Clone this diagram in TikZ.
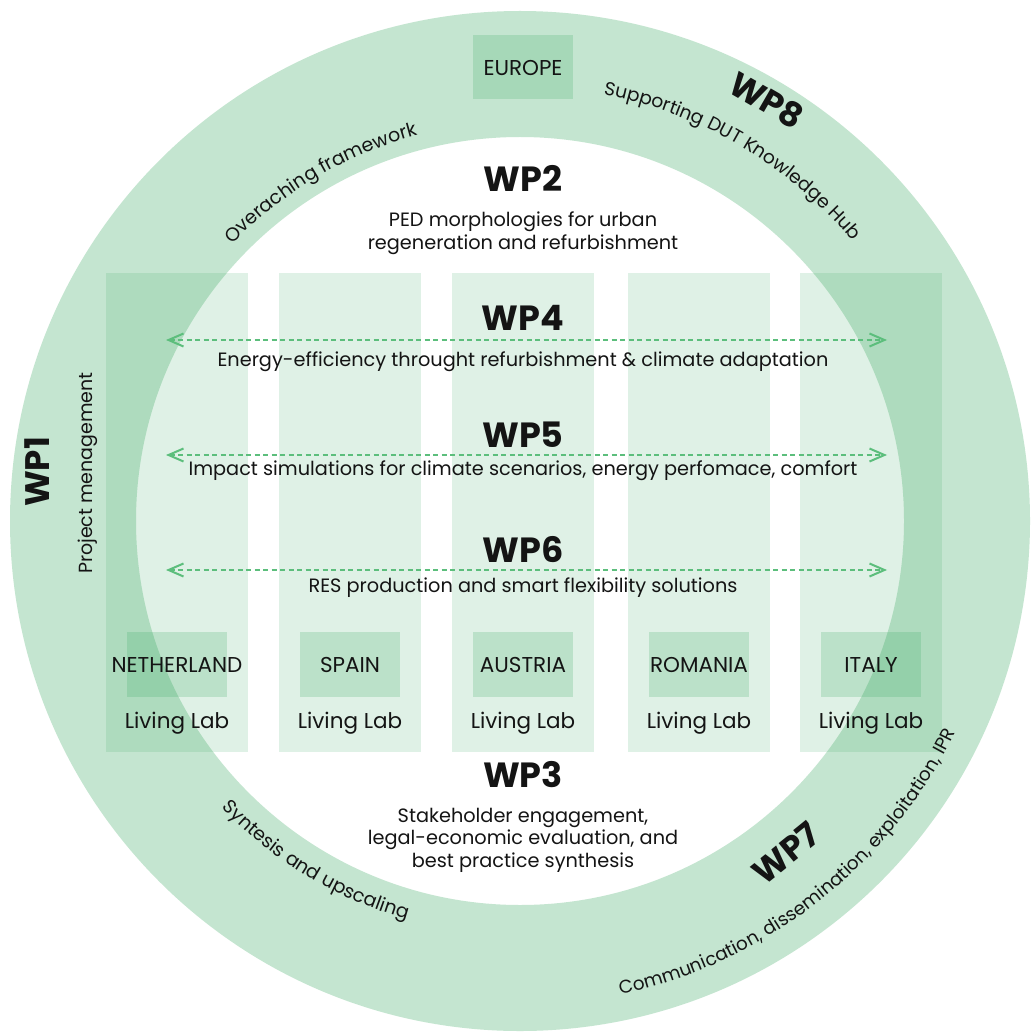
\documentclass[tikz,border=0pt]{standalone}
\usepackage{fontspec}
\setmainfont{Poppins}
\usetikzlibrary{arrows.meta,decorations.text}
\definecolor{wpgreen}{RGB}{60,170,100}
\definecolor{arrowgreen}{RGB}{92,190,124}
\definecolor{inkblack}{RGB}{20,20,20}
\begin{document}
\begin{tikzpicture}
[x=1pt,y=1pt,
  ringDecorate/.style={fill=wpgreen,fill opacity=0.30,even odd rule},
  columnDecorate/.style={fill=wpgreen,fill opacity=0.16,minimum width=142pt,minimum height=479pt,inner sep=0pt},
  boxDecorate/.style={fill=wpgreen,fill opacity=0.22,text opacity=1,minimum width=100pt,minimum height=65pt,inner sep=0pt},
  labelDecorate/.style={font=\fontsize{21.5}{24}\selectfont,text=inkblack,anchor=base,inner sep=0pt},
  titleDecorate/.style={font=\fontsize{35}{40}\selectfont\bfseries,text=inkblack,anchor=base,inner sep=0pt},
  bigTitleDecorate/.style={font=\fontsize{34}{40}\selectfont\bfseries,text=inkblack,inner sep=0pt},
  textDecorate/.style={font=\fontsize{19.3}{22.5}\selectfont,text=inkblack,align=center,anchor=base,inner sep=0pt},
  arrowDecorate/.style={draw=arrowgreen,line width=2pt,dash pattern=on 5pt off 3.5pt,
    {Straight Barb[length=15pt,width=13pt]}-{Straight Barb[length=15pt,width=13pt]}},
  arcText/.style={decorate,decoration={text along path,text align=center,text color=inkblack,text={#1}}}]
%% frame and ring
\fill[white] (0,0) rectangle (1035,-1032);
\useasboundingbox (0,0) rectangle (1035,-1032);
\coordinate (ctr) at (520,-521);
\fill[ringDecorate] (ctr) circle[radius=510pt] (ctr) circle[radius=384pt];
\node (europe) at (523,-67) [boxDecorate,minimum height=64pt] {};
\node (europetxt) at (523,-76) [labelDecorate] {EUROPE};
%% living lab columns
\foreach \nodename/\x/\country in {
  nl/177/NETHERLAND, es/350/SPAIN, at/523/AUSTRIA, ro/699/ROMANIA, it/871/ITALY}
{
  \node (col\nodename) at (\x,-512.5) [columnDecorate] {};
  \node (box\nodename) at (\x,-664.5) [boxDecorate] {};
  \node (name\nodename) at (\x,-672) [labelDecorate] {\country};
  \node (lab\nodename) at (\x,-728) [labelDecorate] {Living Lab};
}
%% work packages inside (base = last line)
\node (wp2) at (523,-192) [titleDecorate] {WP2};
\node (wp2txt) at (523,-249) [textDecorate] {PED morphologies for urban\\regeneration and refurbishment};
\node (wp4) at (523,-330) [titleDecorate] {WP4};
\node (wp4txt) at (523,-366) [textDecorate] {Energy-efficiency throught refurbishment \& climate adaptation};
\node (wp5) at (523,-447) [titleDecorate] {WP5};
\node (wp5txt) at (523,-475) [textDecorate] {Impact simulations for climate scenarios, energy perfomace, comfort};
\node (wp6) at (523,-562) [titleDecorate] {WP6};
\node (wp6txt) at (523,-592) [textDecorate] {RES production and smart flexibility solutions};
\node (wp3) at (523,-787) [titleDecorate] {WP3};
\node (wp3txt) at (523,-867) [textDecorate] {Stakeholder engagement,\\legal-economic evaluation, and\\best practice synthesis};
%% arrows across the labs
\foreach \name/\y in {a4/-340, a5/-455, a6/-570}
{
  \coordinate (\name l) at (166,\y);
  \coordinate (\name r) at (887,\y);
}
\path
\foreach \startnode/\endnode in {a4l/a4r, a5l/a5r, a6l/a6r}
{
  (\startnode) edge[arrowDecorate] (\endnode)
};
%% work packages on the ring
\node (wp1) at (37,-472) [bigTitleDecorate,rotate=90] {WP1};
\node (wp1txt) at (88,-473) [labelDecorate,font=\fontsize{19}{22}\selectfont,anchor=center,rotate=90] {Project menagement};
\node (wp8) at (767,-100) [bigTitleDecorate,rotate=-30] {WP8};
\node (wp7) at (786,-853) [bigTitleDecorate,rotate=39] {WP7};
\path[arcText={|\fontsize{19}{22}\selectfont|Overaching framework}]
  ([shift={(150:399pt)}]ctr) arc[start angle=150,end angle=91,radius=399pt];
\path[arcText={|\fontsize{18.7}{22}\selectfont|Supporting DUT Knowledge Hub}]
  ([shift={(89.5:435pt)}]ctr) arc[start angle=89.5,end angle=29.5,radius=435pt];
\path[arcText={|\fontsize{19}{22}\selectfont|Syntesis and upscaling}]
  ([shift={(209:414pt)}]ctr) arc[start angle=209,end angle=269,radius=414pt];
\path[arcText={|\fontsize{18.4}{22}\selectfont|Communication, dissemination, exploitation, IPR}]
  ([shift={(268:484pt)}]ctr) arc[start angle=268,end angle=348,radius=484pt];
\end{tikzpicture}
\end{document}
